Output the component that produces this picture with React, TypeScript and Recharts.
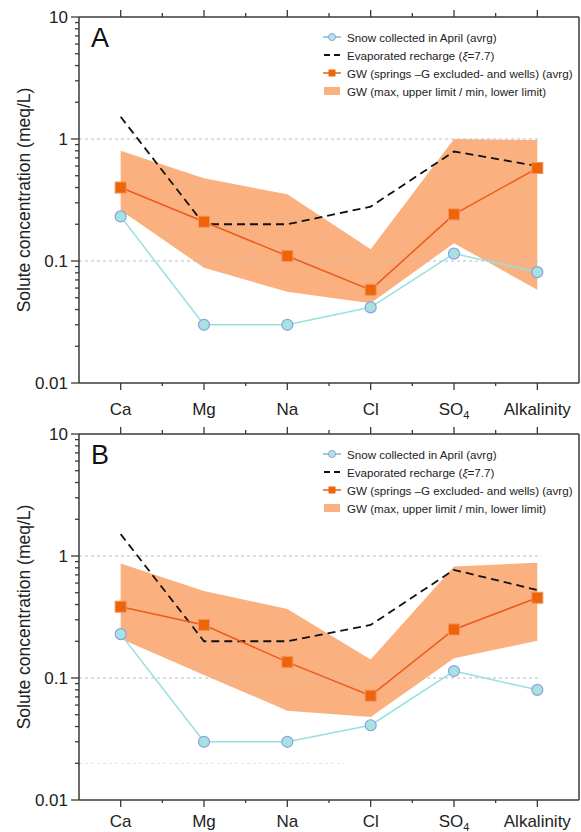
import React from "react";
import { ComposedChart, Area, Line, XAxis, YAxis, ReferenceLine, Legend } from "recharts";

const elements = ["Ca", "Mg", "Na", "Cl", "SO4", "Alkalinity"];
const majorTicks = [0.01, 0.1, 1, 10];
const minorSteps = [2, 3, 4, 5, 6, 7, 8, 9];

// A
const snowA = [0.232, 0.03, 0.03, 0.0417, 0.115, 0.081];
const evapA = [1.52, 0.2, 0.2, 0.279, 0.79, 0.6];
const gwAvgA = [0.4, 0.21, 0.11, 0.058, 0.241, 0.578];
const gwMaxA = [0.8, 0.476, 0.352, 0.125, 1.0, 0.98];
const gwMinA = [0.26, 0.088, 0.056, 0.045, 0.14, 0.058];

// B
const snowB = [0.229, 0.03, 0.03, 0.041, 0.114, 0.08];
const evapB = [1.51, 0.2, 0.2, 0.272, 0.77, 0.526];
const gwAvgB = [0.384, 0.272, 0.135, 0.0716, 0.25, 0.455];
const gwMaxB = [0.87, 0.516, 0.368, 0.142, 0.82, 0.88];
const gwMinB = [0.21, 0.106, 0.054, 0.048, 0.145, 0.202];

const AXIS = "#3a3a3a";
const FONT = "'Liberation Sans', Arial, sans-serif";

const yTicks = [
  ...majorTicks,
  ...majorTicks.slice(0, -1).flatMap((d) => minorSteps.map((m) => +(d * m).toPrecision(3))),
].sort((a, b) => a - b);

const xTicks = elements.flatMap((_, i) => (i < elements.length - 1 ? [i, i + 0.5] : [i]));

const YTick = ({ x, y, payload }: any) => {
  const major = majorTicks.includes(payload.value);
  return (
    <g>
      <line x1={x - (major ? 8 : 4)} x2={x} y1={y} y2={y} stroke={AXIS} strokeWidth={1.3} />
      {major && (
        <text x={x - 11} y={y} dy="0.36em" textAnchor="end" fontSize={17} fill="#222">
          {payload.value}
        </text>
      )}
    </g>
  );
};

const BottomTick = ({ x, y, payload, labelDy = 31 }: any) => {
  const v = payload.value;
  const major = Number.isInteger(v);
  const name = major ? elements[v] : "";
  return (
    <g>
      <line x1={x} x2={x} y1={y} y2={y + (major ? 7 : 3)} stroke={AXIS} strokeWidth={1.3} />
      {major && (
        <text x={x} y={y + labelDy} textAnchor="middle" fontSize={17} fill="#222">
          {name === "SO4" ? (
            <>
              SO<tspan fontSize={11} dy={4}>4</tspan>
            </>
          ) : (
            name
          )}
        </text>
      )}
    </g>
  );
};

const TopTick = ({ x, y, payload }: any) => {
  const major = Number.isInteger(payload.value);
  return <line x1={x} x2={x} y1={y} y2={y - (major ? 7 : 4)} stroke={AXIS} strokeWidth={1.3} />;
};

const AxisTitle = (props: any) => {
  const vb = props.viewBox;
  const cy = vb.y + vb.height / 2;
  return (
    <text
      x={24}
      y={cy}
      transform={`rotate(-90, 24, ${cy})`}
      textAnchor="middle"
      dominantBaseline="central"
      fontSize={17.5}
      fill="#222"
    >
      Solute concentration (meq/L)
    </text>
  );
};

const legendRows = [
  { kind: "snow", label: "Snow collected in April (avrg)" },
  { kind: "evap", label: "Evaporated recharge (" },
  { kind: "gw", label: "GW (springs –G excluded- and wells) (avrg)" },
  { kind: "band", label: "GW (max, upper limit / min, lower limit)" },
];

const LegendSymbol = ({ kind }: { kind: string }) => (
  <svg width={20} height={12} style={{ marginRight: 5, flex: "none" }}>
    {kind === "snow" && (
      <>
        <line x1={1} x2={19} y1={6} y2={6} stroke="#7fb4e0" strokeWidth={1.5} />
        <circle cx={10} cy={6} r={3.5} fill="#b3e6e3" stroke="#8f9de3" strokeWidth={1} />
      </>
    )}
    {kind === "evap" && <line x1={2} x2={18} y1={6} y2={6} stroke="#111" strokeWidth={1.8} strokeDasharray="6 4" />}
    {kind === "gw" && (
      <>
        <line x1={1} x2={19} y1={6} y2={6} stroke="#ec5a1c" strokeWidth={1.5} />
        <rect x={6.5} y={2.5} width={7} height={7} fill="#ee6409" />
      </>
    )}
    {kind === "band" && <rect x={2} y={2} width={16} height={8} fill="#fbb07f" />}
  </svg>
);

const PanelLegend = () => (
  <div style={{ fontFamily: FONT, fontSize: 11.6, color: "#222" }}>
    {legendRows.map((r) => (
      <div key={r.kind} style={{ display: "flex", alignItems: "center", height: 18, whiteSpace: "nowrap" }}>
        <LegendSymbol kind={r.kind} />
        <span>
          {r.label}
          {r.kind === "evap" && (
            <>
              <i>ξ</i>=7.7)
            </>
          )}
        </span>
      </div>
    ))}
  </div>
);

const SquareDot = (p: any) => (
  <rect
    key={p.index}
    x={p.cx - 5.5}
    y={p.cy - 5.5}
    width={11}
    height={11}
    fill="#ee6409"
    stroke="#f4925e"
    strokeWidth={1}
  />
);

type PanelProps = {
  letter: string;
  snow: number[];
  evap: number[];
  gwAvg: number[];
  gwMax: number[];
  gwMin: number[];
  topPad: number;
  labelDy: number;
  faintLine?: number;
};

const Panel = ({ letter, snow, evap, gwAvg, gwMax, gwMin, topPad, labelDy, faintLine }: PanelProps) => {
  const data = elements.map((el, i) => ({
    x: i,
    name: el,
    snow: snow[i],
    evap: evap[i],
    gw: gwAvg[i],
    range: [gwMin[i], gwMax[i]],
  }));
  const last = elements.length - 1;

  return (
    <div style={{ position: "relative", width: 581, height: 416 }}>
      <ComposedChart width={581} height={416} data={data} margin={{ top: 0, right: 2, bottom: 0, left: 0 }}>
        <XAxis
          xAxisId="top"
          orientation="top"
          dataKey="x"
          type="number"
          domain={[-0.5, last + 0.5]}
          ticks={xTicks}
          interval={0}
          height={topPad}
          tickSize={0}
          tickMargin={0}
          tickLine={false}
          tick={<TopTick />}
          axisLine={{ stroke: AXIS, strokeWidth: 1.5 }}
        />
        <XAxis
          dataKey="x"
          type="number"
          domain={[-0.5, last + 0.5]}
          ticks={xTicks}
          interval={0}
          height={416 - topPad - 366}
          tickSize={0}
          tickMargin={0}
          tickLine={false}
          tick={<BottomTick labelDy={labelDy} />}
          axisLine={{ stroke: AXIS, strokeWidth: 1.5 }}
        />
        <YAxis
          type="number"
          scale="log"
          domain={[0.01, 10]}
          allowDataOverflow
          ticks={yTicks}
          interval={0}
          width={79}
          tickSize={0}
          tickMargin={0}
          tickLine={false}
          tick={<YTick />}
          axisLine={{ stroke: AXIS, strokeWidth: 1.5 }}
          label={{ content: <AxisTitle /> }}
        />
        <Area
          dataKey="range"
          type="linear"
          fill="#fbb07f"
          fillOpacity={1}
          stroke="none"
          isAnimationActive={false}
        />
        {[1, 0.1].map((v) => (
          <ReferenceLine
            key={v}
            segment={[
              { x: -0.5, y: v },
              { x: last + 0.05, y: v },
            ]}
            stroke="#bdbdbd"
            strokeDasharray="3 3"
            strokeWidth={1}
          />
        ))}
        {faintLine && (
          <ReferenceLine
            segment={[
              { x: -0.5, y: faintLine },
              { x: 2.68, y: faintLine },
            ]}
            stroke="#e2e2e2"
            strokeDasharray="3 3"
            strokeWidth={1}
          />
        )}
        <ReferenceLine x={last + 0.5} stroke={AXIS} strokeWidth={1.5} />
        <Line
          dataKey="snow"
          type="linear"
          stroke="#96e0df"
          strokeWidth={1.5}
          dot={{ r: 5.5, fill: "#a6e3df", stroke: "#8f9de3", strokeWidth: 1.2 }}
          isAnimationActive={false}
        />
        <Line
          dataKey="evap"
          type="linear"
          stroke="#111"
          strokeWidth={1.8}
          strokeDasharray="8 5"
          dot={false}
          isAnimationActive={false}
        />
        <Line
          dataKey="gw"
          type="linear"
          stroke="#ec5a1c"
          strokeWidth={1.5}
          dot={SquareDot}
          isAnimationActive={false}
        />
        <Legend
          layout="vertical"
          align="center"
          verticalAlign="middle"
          content={<PanelLegend />}
          wrapperStyle={{ left: 322, top: topPad + 11, width: 258 }}
        />
      </ComposedChart>
      <div
        style={{
          position: "absolute",
          left: 91,
          top: topPad + 6,
          fontSize: 27,
          lineHeight: "30px",
          color: "#111",
          fontFamily: FONT,
        }}
      >
        {letter}
      </div>
    </div>
  );
};

export default function App() {
  return (
    <div
      style={{
        position: "absolute",
        left: 0,
        top: 0,
        width: 581,
        height: 832,
        background: "#fff",
        fontFamily: FONT,
      }}
    >
      <style>{".recharts-surface{overflow:visible}"}</style>
      <Panel
        letter="A"
        snow={snowA}
        evap={evapA}
        gwAvg={gwAvgA}
        gwMax={gwMaxA}
        gwMin={gwMinA}
        topPad={17}
        labelDy={32}
      />
      <Panel
        letter="B"
        snow={snowB}
        evap={evapB}
        gwAvg={gwAvgB}
        gwMax={gwMaxB}
        gwMin={gwMinB}
        topPad={18}
        labelDy={27}
        faintLine={0.02}
      />
    </div>
  );
}
